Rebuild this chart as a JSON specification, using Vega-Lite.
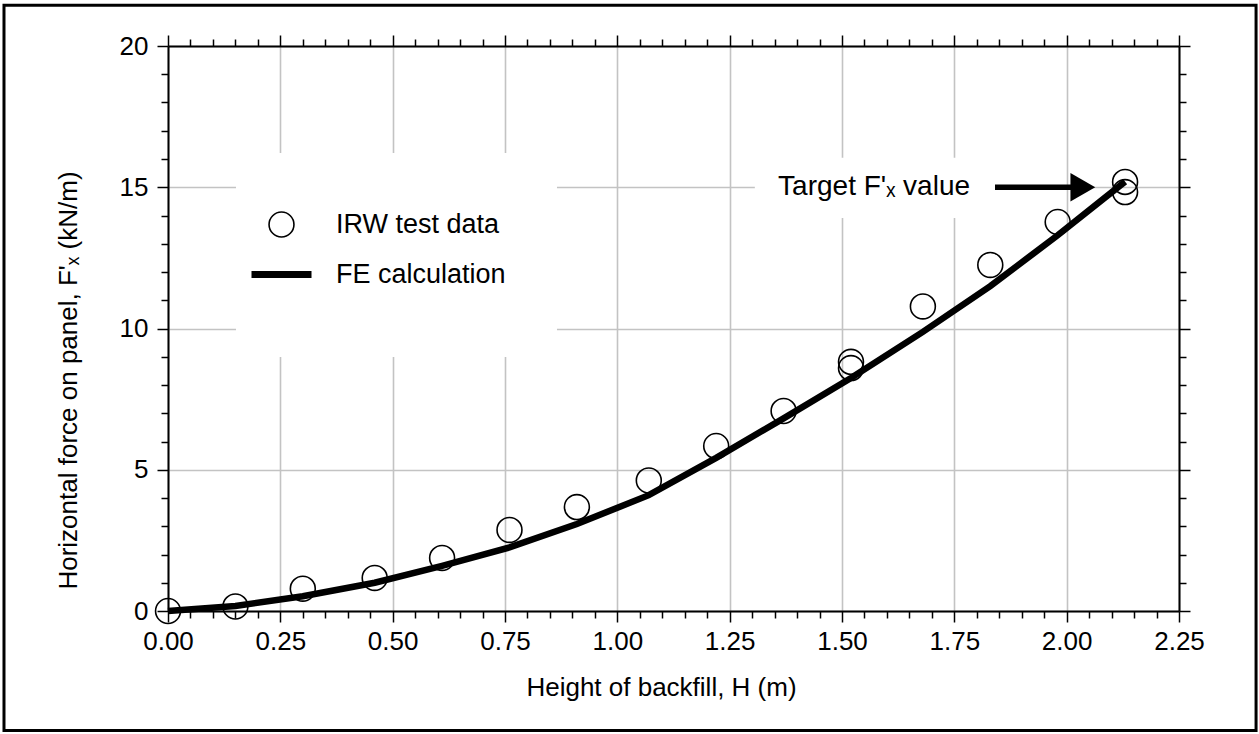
{
  "$schema": "https://vega.github.io/schema/vega-lite/v6.json",
  "width": 1011,
  "height": 565,
  "autosize": {"type": "none"},
  "padding": {"left": 168, "top": 46, "right": 80, "bottom": 123},
  "background": "white",
  "config": {
    "font": "Liberation Sans",
    "view": {"stroke": null},
    "axis": {
      "grid": false,
      "domainColor": "black",
      "domainWidth": 2,
      "tickColor": "black",
      "tickWidth": 1.5,
      "labelColor": "black",
      "labelFont": "Liberation Sans",
      "titleFont": "Liberation Sans",
      "titleColor": "black",
      "titleFontWeight": "normal",
      "gridColor": "#c3c3c3",
      "gridWidth": 1.6,
      "gridOpacity": 1
    }
  },
  "datasets": {
    "irw": [
      {"H": 0.0, "F": 0.0, "series": "IRW test data"},
      {"H": 0.15, "F": 0.16, "series": "IRW test data"},
      {"H": 0.30, "F": 0.79, "series": "IRW test data"},
      {"H": 0.46, "F": 1.17, "series": "IRW test data"},
      {"H": 0.61, "F": 1.88, "series": "IRW test data"},
      {"H": 0.76, "F": 2.87, "series": "IRW test data"},
      {"H": 0.91, "F": 3.68, "series": "IRW test data"},
      {"H": 1.07, "F": 4.62, "series": "IRW test data"},
      {"H": 1.22, "F": 5.84, "series": "IRW test data"},
      {"H": 1.37, "F": 7.08, "series": "IRW test data"},
      {"H": 1.52, "F": 8.6, "series": "IRW test data"},
      {"H": 1.52, "F": 8.82, "series": "IRW test data"},
      {"H": 1.68, "F": 10.78, "series": "IRW test data"},
      {"H": 1.83, "F": 12.25, "series": "IRW test data"},
      {"H": 1.98, "F": 13.77, "series": "IRW test data"},
      {"H": 2.13, "F": 15.19, "series": "IRW test data"},
      {"H": 2.13, "F": 14.83, "series": "IRW test data"}
    ],
    "fe": [
      {"H": 0.0, "F": 0.0},
      {"H": 0.15, "F": 0.18},
      {"H": 0.30, "F": 0.52},
      {"H": 0.46, "F": 1.0},
      {"H": 0.61, "F": 1.6},
      {"H": 0.76, "F": 2.25},
      {"H": 0.91, "F": 3.08},
      {"H": 1.07, "F": 4.1},
      {"H": 1.22, "F": 5.42},
      {"H": 1.37, "F": 6.82},
      {"H": 1.52, "F": 8.25},
      {"H": 1.68, "F": 9.88},
      {"H": 1.83, "F": 11.5},
      {"H": 1.98, "F": 13.3},
      {"H": 2.13, "F": 15.2}
    ]
  },
  "resolve": {"axis": {"x": "independent", "y": "independent"}},
  "layer": [
    {
      "data": {"values": [{}]},
      "mark": {"type": "rect", "fill": "white", "stroke": null},
      "encoding": {
        "x": {"datum": 0.1513, "type": "quantitative", "scale": {"domain": [0, 2.25], "nice": false, "zero": false},
          "axis": {"orient": "bottom", "values": [0.05,0.1,0.15,0.2,0.3,0.35,0.4,0.45,0.55,0.6,0.65,0.7,0.8,0.85,0.9,0.95,1.05,1.1,1.15,1.2,1.3,1.35,1.4,1.45,1.55,1.6,1.65,1.7,1.8,1.85,1.9,1.95,2.05,2.1,2.15,2.2], "labels": false, "domain": false, "tickSize": 7, "title": null, "grid": false}},
        "x2": {"datum": 0.8657},
        "y": {"datum": 8.99, "type": "quantitative", "scale": {"domain": [0, 20], "nice": false, "zero": false},
          "axis": {"orient": "left", "values": [1,2,3,4,6,7,8,9,11,12,13,14,16,17,18,19], "labels": false, "domain": false, "tickSize": 7, "title": null, "grid": false}},
        "y2": {"datum": 16.21}
      }
    },
    {
      "data": {"values": [{}]},
      "mark": {"type": "rect", "fill": "white", "stroke": null},
      "encoding": {
        "x": {"datum": 1.306, "type": "quantitative", "scale": {"domain": [0, 2.25], "nice": false, "zero": false},
          "axis": {"orient": "top", "values": [0.05,0.1,0.15,0.2,0.3,0.35,0.4,0.45,0.55,0.6,0.65,0.7,0.8,0.85,0.9,0.95,1.05,1.1,1.15,1.2,1.3,1.35,1.4,1.45,1.55,1.6,1.65,1.7,1.8,1.85,1.9,1.95,2.05,2.1,2.15,2.2], "labels": false, "domain": false, "tickSize": 7, "title": null, "grid": false}},
        "x2": {"datum": 1.985},
        "y": {"datum": 13.91, "type": "quantitative", "scale": {"domain": [0, 20], "nice": false, "zero": false},
          "axis": {"orient": "right", "values": [1,2,3,4,6,7,8,9,11,12,13,14,16,17,18,19], "labels": false, "domain": false, "tickSize": 7, "title": null, "grid": false}},
        "y2": {"datum": 16.04}
      }
    },
    {
      "data": {"values": [{}]},
      "mark": {"type": "rect", "fill": null, "stroke": "black", "strokeWidth": 3, "clip": false},
      "encoding": {
        "x": {"datum": -0.365, "type": "quantitative", "scale": {"domain": [0, 2.25], "nice": false, "zero": false}, "axis": null},
        "x2": {"datum": 2.4215},
        "y": {"datum": -4.23, "type": "quantitative", "scale": {"domain": [0, 20], "nice": false, "zero": false}, "axis": null},
        "y2": {"datum": 21.44}
      }
    },
    {
      "data": {"name": "fe"},
      "mark": {"type": "line", "color": "black", "strokeWidth": 6.5, "strokeCap": "butt"},
      "encoding": {
        "x": {"field": "H", "type": "quantitative", "scale": {"domain": [0, 2.25], "nice": false, "zero": false},
          "axis": {"orient": "top", "values": [0,0.25,0.5,0.75,1,1.25,1.5,1.75,2,2.25], "labels": false, "tickSize": 11, "title": null, "grid": false}},
        "y": {"field": "F", "type": "quantitative", "scale": {"domain": [0, 20], "nice": false, "zero": false},
          "axis": {"orient": "right", "values": [0,5,10,15,20], "labels": false, "tickSize": 11, "title": null, "grid": false}}
      }
    },
    {
      "data": {"name": "irw"},
      "mark": {"type": "point", "filled": false, "stroke": "black", "opacity": 1},
      "encoding": {
        "x": {"field": "H", "type": "quantitative", "scale": {"domain": [0, 2.25], "nice": false, "zero": false},
          "axis": {"orient": "bottom", "values": [0,0.25,0.5,0.75,1,1.25,1.5,1.75,2,2.25], "format": ".2f", "labelFontSize": 26, "labelPadding": 6, "labelFlush": false, "labelOverlap": false, "tickSize": 11, "grid": true, "title": "Height of backfill, H (m)", "titleFontSize": 26, "titlePadding": 20, "titleX": 493}},
        "y": {"field": "F", "type": "quantitative", "scale": {"domain": [0, 20], "nice": false, "zero": false},
          "axis": {"orient": "left", "values": [0,5,10,15,20], "labelFontSize": 26, "labelPadding": 9, "labelFlush": false, "labelOverlap": false, "tickSize": 11, "grid": true, "title": "Horizontal force on panel, F'ₓ (kN/m)", "titleFontSize": 26, "titlePadding": 38, "titleY": 334}},
        "shape": {"field": "series", "type": "nominal",
          "scale": {"domain": ["IRW test data", "FE calculation"], "range": ["circle", "stroke"]},
          "legend": {
            "orient": "none", "legendX": 80, "legendY": 165, "title": null, "padding": 0,
            "symbolStrokeColor": "black", "symbolFillColor": "transparent",
            "labelFontSize": 27, "labelFont": "Liberation Sans", "labelColor": "black", "labelLimit": 500,
            "labelOffset": 21, "rowPadding": -12
          }},
        "size": {"field": "series", "type": "nominal",
          "scale": {"domain": ["IRW test data", "FE calculation"], "range": [620, 3600]},
          "legend": {
            "orient": "none", "legendX": 80, "legendY": 165, "title": null, "padding": 0,
            "symbolStrokeColor": "black", "symbolFillColor": "transparent",
            "labelFontSize": 27, "labelFont": "Liberation Sans", "labelColor": "black", "labelLimit": 500,
            "labelOffset": 21, "rowPadding": -12
          }},
        "strokeWidth": {"field": "series", "type": "nominal",
          "scale": {"domain": ["IRW test data", "FE calculation"], "range": [1.6, 7]},
          "legend": {
            "orient": "none", "legendX": 80, "legendY": 165, "title": null, "padding": 0,
            "symbolStrokeColor": "black", "symbolFillColor": "transparent",
            "labelFontSize": 27, "labelFont": "Liberation Sans", "labelColor": "black", "labelLimit": 500,
            "labelOffset": 21, "rowPadding": -12
          }}
      }
    },
    {
      "data": {"values": [{}]},
      "mark": {"type": "rule", "color": "black", "strokeWidth": 5.5},
      "encoding": {
        "x": {"datum": 1.8405, "type": "quantitative", "scale": {"domain": [0, 2.25], "nice": false, "zero": false}, "axis": null},
        "x2": {"datum": 2.02},
        "y": {"datum": 15, "type": "quantitative", "scale": {"domain": [0, 20], "nice": false, "zero": false}, "axis": null}
      }
    },
    {
      "data": {"values": [{}]},
      "mark": {"type": "point", "shape": "triangle-right", "filled": true, "color": "black", "size": 820, "opacity": 1, "strokeWidth": 0},
      "encoding": {
        "x": {"datum": 2.036, "type": "quantitative", "scale": {"domain": [0, 2.25], "nice": false, "zero": false}, "axis": null},
        "y": {"datum": 15, "type": "quantitative", "scale": {"domain": [0, 20], "nice": false, "zero": false}, "axis": null}
      }
    },
    {
      "data": {"values": [{"label": "Target F'ₓ value"}]},
      "mark": {"type": "text", "align": "right", "baseline": "middle", "fontSize": 28, "font": "Liberation Sans", "color": "black"},
      "encoding": {
        "text": {"field": "label"},
        "x": {"datum": 1.785, "type": "quantitative", "scale": {"domain": [0, 2.25], "nice": false, "zero": false}, "axis": null},
        "y": {"datum": 15, "type": "quantitative", "scale": {"domain": [0, 20], "nice": false, "zero": false}, "axis": null}
      }
    }
  ]
}
